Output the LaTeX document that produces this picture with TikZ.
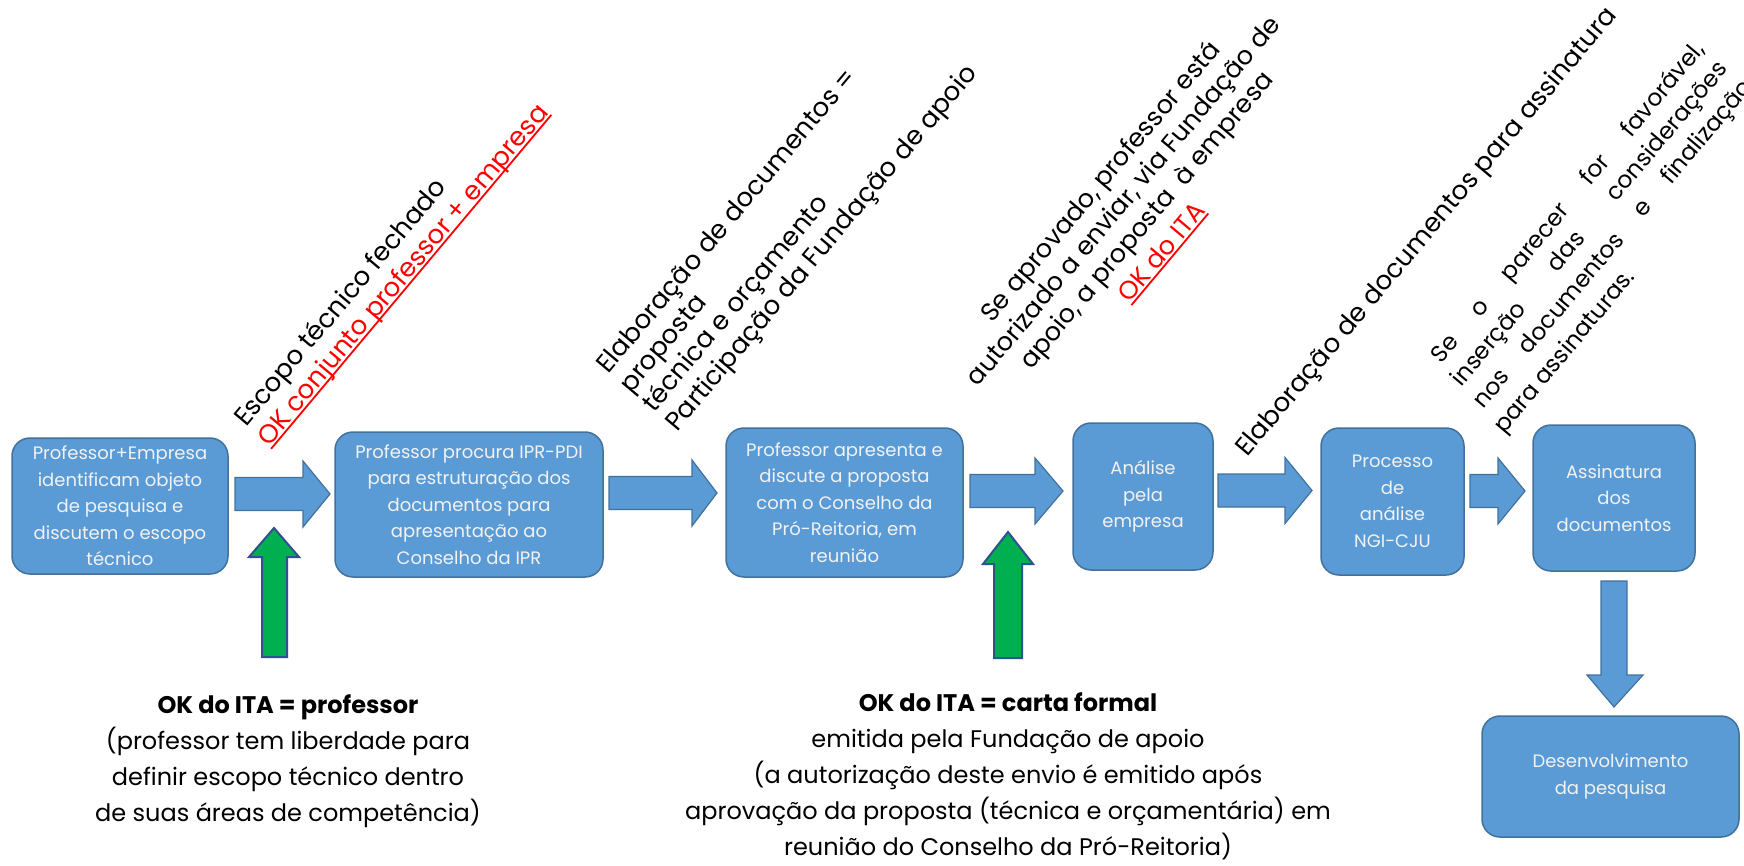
\documentclass[tikz,border=0pt]{standalone}
\usepackage{fontspec}
\setmainfont{Poppins}
\definecolor{boxfill}{HTML}{5B9BD5}
\definecolor{boxline}{HTML}{41719C}
\definecolor{okgreen}{HTML}{00B050}
\definecolor{greenline}{HTML}{2F528F}
\definecolor{boxtext}{HTML}{F2F2F2}
\newcommand\ulred[1]{\textcolor{red}{\setbox0\hbox{#1}\rlap{\rule[-3.5pt]{\wd0}{1.8pt}}\box0}}
\newcommand\harrow[4]{\draw[barrow] (#1,{#4-16.5}) -- (#2,{#4-16.5}) -- (#2,{#4-33}) -- (#3,#4) -- (#2,{#4+33}) -- (#2,{#4+16.5}) -- (#1,{#4+16.5}) -- cycle;}
\begin{document}
\begin{tikzpicture}[x=1pt, y=-1pt,
 stepbox/.style={draw=boxline, line width=1.5pt, fill=boxfill, rounded corners=18pt, text=boxtext, align=center, inner sep=0pt, font=\fontsize{18}{26.5}\selectfont},
 barrow/.style={draw=boxline, line width=1.2pt, fill=boxfill, line join=miter},
 garrow/.style={draw=greenline, line width=2pt, fill=okgreen, line join=miter},
 rotlab/.style={anchor=base west, inner sep=0pt, font=\fontsize{26}{30}\selectfont},
 rotlabc/.style={anchor=base, inner sep=0pt, font=\fontsize{25.5}{30}\selectfont},
 rotlabs/.style={anchor=base west, inner sep=0pt, font=\fontsize{23.5}{30}\selectfont},
 note/.style={align=center, font=\fontsize{24}{36}\selectfont, inner sep=0pt}]
\useasboundingbox (0,0) rectangle (1744,866);

% process boxes
\node[stepbox, minimum width=216pt, minimum height=136pt] (b1) at (120,506) {Professor+Empresa\\identificam objeto\\de pesquisa e\\discutem o escopo\\técnico};
\node[stepbox, minimum width=268pt, minimum height=145pt] (b2) at (469,504.5) {Professor procura IPR-PDI\\para estruturação dos\\documentos para\\apresentação ao\\Conselho da IPR};
\node[stepbox, minimum width=237pt, minimum height=149pt] (b3) at (844.5,502.5) {Professor apresenta e\\discute a proposta\\com o Conselho da\\Pró-Reitoria, em\\reunião};
\node[stepbox, minimum width=140pt, minimum height=147pt] (b4) at (1143,496.5) {Análise\\pela\\empresa};
\node[stepbox, minimum width=143pt, minimum height=147pt] (b5) at (1392.5,501.5) {Processo\\de\\análise\\NGI-CJU};
\node[stepbox, minimum width=162pt, minimum height=146pt] (b6) at (1614,498) {Assinatura\\dos\\documentos};
\node[stepbox, minimum width=257pt, minimum height=121pt] (b7) at (1610.5,776.5) {Desenvolvimento\\da pesquisa};

% block arrows
\harrow{235}{303}{330}{494}
\harrow{609}{692}{717}{493}
\harrow{970}{1035}{1063}{491}
\harrow{1218}{1285}{1312}{490.5}
\harrow{1470}{1498}{1525}{491}
\draw[barrow] (1601,581) -- (1627,581) -- (1627,675) -- (1643,675) -- (1614,707) -- (1587,675) -- (1601,675) -- cycle;

% green arrows
\draw[garrow] (262,657) -- (287,657) -- (287,557) -- (299,557) -- (274,528) -- (249,557) -- (262,557) -- cycle;
\draw[garrow] (994,658) -- (1022,658) -- (1022,564) -- (1033,564) -- (1008,532) -- (983,564) -- (994,564) -- cycle;

% rotated labels
\begin{scope}[shift={(246,428)}, rotate=50, transform shape]
 \node[rotlab] (la1) at (0,0) {Escopo técnico fechado};
 \node[rotlab] (la2) at (0,30) {\ulred{OK conjunto professor + empresa}};
\end{scope}
\begin{scope}[shift={(608,375)}, rotate=50, transform shape]
 \node[rotlab] (lb1) at (0,0) {Elaboração de documentos =};
 \node[rotlab] (lb2) at (0,30) {proposta};
 \node[rotlab] (lb3) at (0,60) {técnica e orçamento};
 \node[rotlab] (lb4) at (0,90) {Participação da Fundação de apoio};
\end{scope}
\begin{scope}[shift={(1107,187)}, rotate=50, transform shape]
 \node[rotlabc] (lc1) at (0,0) {Se aprovado, professor está};
 \node[rotlabc] (lc2) at (0,30) {autorizado a enviar, via Fundação de};
 \node[rotlabc] (lc3) at (0,60) {apoio, a proposta\ \ à empresa};
 \node[rotlabc] (lc4) at (-15,92) {\ulred{OK do ITA}};
\end{scope}
\begin{scope}[shift={(1247,458)}, rotate=50, transform shape]
 \node[rotlab] (ld1) at (0,0) {Elaboração de documentos para assinatura};
\end{scope}
\begin{scope}[shift={(1443,363)}, rotate=50, transform shape]
 \node[rotlabs] (le1) at (-2,0) {\makebox[410pt][s]{Se o parecer for favorável,}};
 \node[rotlabs] (le2) at (-7,30) {\makebox[415pt][s]{inserção das considerações}};
 \node[rotlabs] (le3) at (-10,61) {\makebox[420pt][s]{nos documentos e finalização}};
 \node[rotlabs] (le4) at (-16,93) {para assinaturas.};
\end{scope}

% notes
\node[note] (n1) at (288,761) {\textbf{OK do ITA = professor}\\(professor tem liberdade para\\definir escopo técnico dentro\\de suas áreas de competência)};
\node[note] (n2) at (1008,776) {\textbf{OK do ITA = carta formal}\\emitida pela Fundação de apoio\\(a autorização deste envio é emitido após\\aprovação da proposta (técnica e orçamentária) em\\reunião do Conselho da Pró-Reitoria)};
\end{tikzpicture}
\end{document}
